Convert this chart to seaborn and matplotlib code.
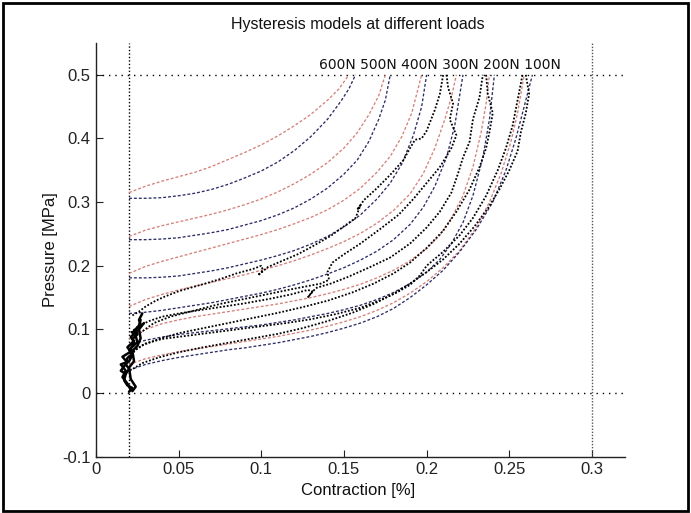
import matplotlib
matplotlib.use("Agg")
import matplotlib.pyplot as plt
import seaborn as sns
from matplotlib.patches import Rectangle

# ---------------- data ----------------
load_labels = ["600N", "500N", "400N", "300N", "200N", "100N"]
x_ticks = [0, 0.05, 0.1, 0.15, 0.2, 0.25, 0.3]
x_tick_labels = ["0", "0.05", "0.1", "0.15", "0.2", "0.25", "0.3"]
y_ticks = [-0.1, 0, 0.1, 0.2, 0.3, 0.4, 0.5]
y_tick_labels = ["-0.1", "0", "0.1", "0.2", "0.3", "0.4", "0.5"]

# model curves (red = loading, blue = unloading)
r600_x = [0.02, 0.03, 0.04, 0.05, 0.06, 0.07, 0.08, 0.09, 0.1, 0.11, 0.12, 0.13, 0.14, 0.147, 0.153]
r600_y = [0.315, 0.325, 0.333, 0.340, 0.347, 0.356, 0.367, 0.378, 0.390, 0.404, 0.420, 0.438, 0.46, 0.478, 0.5]
b600_x = [0.02, 0.03, 0.04, 0.05, 0.06, 0.07, 0.08, 0.09, 0.1, 0.11, 0.12, 0.13, 0.14, 0.148, 0.153, 0.157]
b600_y = [0.306, 0.306, 0.307, 0.310, 0.314, 0.320, 0.328, 0.338, 0.349, 0.363, 0.381, 0.403, 0.430, 0.458, 0.478, 0.5]
r500_x = [0.02, 0.03, 0.04, 0.05, 0.06, 0.07, 0.08, 0.09, 0.1, 0.11, 0.12, 0.13, 0.14, 0.15, 0.158, 0.165, 0.171, 0.175]
r500_y = [0.246, 0.256, 0.263, 0.269, 0.275, 0.281, 0.288, 0.296, 0.305, 0.316, 0.329, 0.344, 0.362, 0.385, 0.409, 0.437, 0.467, 0.5]
b500_x = [0.02, 0.03, 0.04, 0.05, 0.06, 0.07, 0.08, 0.09, 0.1, 0.11, 0.12, 0.13, 0.14, 0.15, 0.158, 0.165, 0.171, 0.175, 0.178]
b500_y = [0.241, 0.241, 0.242, 0.244, 0.248, 0.252, 0.257, 0.264, 0.271, 0.280, 0.291, 0.305, 0.322, 0.344, 0.366, 0.395, 0.43, 0.46, 0.5]
r400_x = [0.02, 0.03, 0.04, 0.05, 0.06, 0.07, 0.08, 0.09, 0.1, 0.11, 0.12, 0.13, 0.14, 0.15, 0.16, 0.17, 0.178, 0.185, 0.191, 0.197]
r400_y = [0.188, 0.199, 0.207, 0.214, 0.221, 0.228, 0.235, 0.242, 0.249, 0.257, 0.266, 0.276, 0.288, 0.303, 0.322, 0.347, 0.372, 0.403, 0.44, 0.5]
b400_x = [0.02, 0.03, 0.04, 0.05, 0.06, 0.07, 0.08, 0.09, 0.1, 0.11, 0.12, 0.13, 0.14, 0.15, 0.16, 0.17, 0.178, 0.185, 0.192, 0.197, 0.2]
b400_y = [0.181, 0.181, 0.182, 0.184, 0.188, 0.192, 0.197, 0.203, 0.209, 0.216, 0.224, 0.234, 0.246, 0.261, 0.28, 0.305, 0.33, 0.36, 0.405, 0.45, 0.5]
r300_x = [0.02, 0.03, 0.04, 0.05, 0.06, 0.07, 0.08, 0.09, 0.1, 0.11, 0.12, 0.13, 0.14, 0.15, 0.16, 0.17, 0.18, 0.19, 0.198, 0.205, 0.211, 0.215, 0.218]
r300_y = [0.136, 0.147, 0.155, 0.162, 0.168, 0.174, 0.180, 0.186, 0.193, 0.2, 0.208, 0.217, 0.227, 0.238, 0.251, 0.267, 0.287, 0.313, 0.345, 0.385, 0.43, 0.465, 0.5]
b300_x = [0.02, 0.03, 0.04, 0.05, 0.06, 0.07, 0.08, 0.09, 0.1, 0.11, 0.12, 0.13, 0.14, 0.15, 0.16, 0.17, 0.18, 0.19, 0.198, 0.205, 0.212, 0.217, 0.222]
b300_y = [0.125, 0.127, 0.130, 0.134, 0.138, 0.142, 0.147, 0.152, 0.157, 0.163, 0.170, 0.178, 0.187, 0.197, 0.209, 0.223, 0.241, 0.265, 0.292, 0.325, 0.37, 0.42, 0.5]
r200_x = [0.02, 0.03, 0.04, 0.05, 0.06, 0.07, 0.08, 0.09, 0.1, 0.11, 0.12, 0.13, 0.14, 0.15, 0.16, 0.17, 0.18, 0.19, 0.2,
          0.208, 0.215, 0.222, 0.228, 0.233, 0.236, 0.238]
r200_y = [0.085, 0.1, 0.109, 0.115, 0.12, 0.124, 0.128, 0.132, 0.136, 0.14, 0.145, 0.150, 0.156, 0.163, 0.171, 0.181, 0.193,
          0.208, 0.227, 0.248, 0.275, 0.31, 0.355, 0.41, 0.455, 0.5]
b200_x = [0.02, 0.03, 0.04, 0.05, 0.06, 0.07, 0.08, 0.09, 0.1, 0.11, 0.12, 0.13, 0.14, 0.15, 0.16, 0.17, 0.18, 0.19, 0.2,
          0.208, 0.215, 0.222, 0.228, 0.234, 0.238, 0.241]
b200_y = [0.075, 0.083, 0.088, 0.092, 0.095, 0.098, 0.101, 0.104, 0.107, 0.111, 0.115, 0.12, 0.125, 0.131, 0.138, 0.147,
          0.158, 0.172, 0.19, 0.21, 0.235, 0.268, 0.31, 0.37, 0.43, 0.5]
r100_x = [0.02, 0.03, 0.04, 0.05, 0.06, 0.07, 0.08, 0.09, 0.1, 0.11, 0.12, 0.13, 0.14, 0.15, 0.16, 0.17, 0.18, 0.19, 0.2,
          0.21, 0.22, 0.23, 0.238, 0.245, 0.251, 0.255, 0.259]
r100_y = [0.045, 0.054, 0.06, 0.065, 0.069, 0.073, 0.077, 0.081, 0.085, 0.089, 0.094, 0.099, 0.105, 0.112, 0.12, 0.13,
          0.142, 0.157, 0.175, 0.197, 0.224, 0.26, 0.3, 0.345, 0.395, 0.44, 0.5]
b100_x = [0.02, 0.03, 0.04, 0.05, 0.06, 0.07, 0.08, 0.09, 0.1, 0.11, 0.12, 0.13, 0.14, 0.15, 0.16, 0.17, 0.18, 0.19, 0.2,
          0.21, 0.22, 0.23, 0.24, 0.248, 0.254, 0.259, 0.264]
b100_y = [0.036, 0.045, 0.051, 0.056, 0.06, 0.064, 0.068, 0.071, 0.075, 0.079, 0.084, 0.089, 0.095, 0.102, 0.11, 0.12,
          0.133, 0.15, 0.17, 0.193, 0.222, 0.257, 0.3, 0.35, 0.4, 0.45, 0.5]

# measured data (black)
k1_x = [0.022, 0.026, 0.03, 0.036, 0.042, 0.05, 0.058, 0.066, 0.075, 0.085, 0.095, 0.1, 0.101, 0.098, 0.104,
        0.112, 0.122, 0.132, 0.142, 0.15, 0.157, 0.16, 0.158, 0.162, 0.17, 0.178, 0.186, 0.19, 0.193, 0.197,
        0.2, 0.205, 0.208, 0.21]
k1_y = [0.122, 0.128, 0.136, 0.145, 0.152, 0.16, 0.166, 0.172, 0.179, 0.188, 0.195, 0.2, 0.193, 0.185, 0.198,
        0.207, 0.218, 0.232, 0.247, 0.262, 0.275, 0.295, 0.288, 0.303, 0.322, 0.343, 0.366, 0.385, 0.398, 0.4,
        0.412, 0.445, 0.47, 0.5]
k2_x = [0.212, 0.213, 0.216, 0.214, 0.218, 0.215, 0.208, 0.2, 0.192, 0.183, 0.172, 0.16, 0.15, 0.143, 0.14,
        0.141, 0.136, 0.128, 0.118, 0.105, 0.09, 0.075, 0.06, 0.045, 0.035, 0.027]
k2_y = [0.5, 0.48, 0.455, 0.43, 0.405, 0.385, 0.355, 0.33, 0.305, 0.28, 0.258, 0.235, 0.218, 0.205, 0.19,
        0.178, 0.172, 0.168, 0.163, 0.156, 0.148, 0.14, 0.13, 0.12, 0.11, 0.095]
k3_x = [0.021, 0.025, 0.032, 0.04, 0.05, 0.062, 0.075, 0.09, 0.105, 0.118, 0.128, 0.131, 0.128, 0.133, 0.142,
        0.152, 0.165, 0.178, 0.19, 0.2, 0.208, 0.215, 0.219, 0.222, 0.226, 0.228, 0.232, 0.234]
k3_y = [0.095, 0.104, 0.113, 0.12, 0.125, 0.13, 0.135, 0.141, 0.148, 0.155, 0.162, 0.16, 0.15, 0.165, 0.172,
        0.182, 0.197, 0.213, 0.235, 0.26, 0.285, 0.315, 0.345, 0.37, 0.395, 0.43, 0.465, 0.5]
k4_x = [0.236, 0.237, 0.24, 0.238, 0.236, 0.232, 0.226, 0.218, 0.21, 0.2, 0.19, 0.18, 0.168, 0.155, 0.14,
        0.125, 0.11, 0.095, 0.08, 0.065, 0.05, 0.038, 0.028, 0.022]
k4_y = [0.5, 0.47, 0.44, 0.41, 0.385, 0.355, 0.32, 0.285, 0.255, 0.228, 0.205, 0.188, 0.172, 0.158, 0.145,
        0.135, 0.126, 0.118, 0.11, 0.102, 0.094, 0.085, 0.075, 0.065]
k5_x = [0.02, 0.024, 0.03, 0.04, 0.055, 0.07, 0.085, 0.1, 0.115, 0.13, 0.145, 0.16, 0.172, 0.182, 0.19,
        0.196, 0.2, 0.21, 0.22, 0.228, 0.236, 0.243, 0.248, 0.252, 0.255, 0.258]
k5_y = [0.055, 0.068, 0.078, 0.085, 0.09, 0.095, 0.1, 0.105, 0.11, 0.116, 0.124, 0.134, 0.146, 0.158, 0.17,
        0.185, 0.2, 0.222, 0.248, 0.275, 0.31, 0.35, 0.385, 0.42, 0.46, 0.5]
k6_x = [0.26, 0.262, 0.26, 0.257, 0.255, 0.25, 0.244, 0.237, 0.229, 0.22, 0.21, 0.2, 0.19, 0.18, 0.168,
        0.155, 0.14, 0.125, 0.11, 0.095, 0.08, 0.065, 0.05, 0.038, 0.028, 0.021]
k6_y = [0.5, 0.47, 0.44, 0.41, 0.38, 0.35, 0.32, 0.29, 0.262, 0.235, 0.21, 0.19, 0.172, 0.156, 0.14,
        0.126, 0.113, 0.102, 0.093, 0.086, 0.079, 0.072, 0.064, 0.056, 0.047, 0.036]

# initial cluster near x = 0.02
c1_x = [0.02, 0.022, 0.019, 0.017, 0.018, 0.02, 0.018, 0.019, 0.022, 0.021, 0.023, 0.022, 0.025, 0.024, 0.027, 0.026, 0.028]
c1_y = [0.002, 0.008, 0.012, 0.02, 0.03, 0.038, 0.045, 0.055, 0.062, 0.07, 0.078, 0.085, 0.092, 0.1, 0.108, 0.115, 0.125]
c2_x = [0.021, 0.019, 0.016, 0.018, 0.015, 0.02, 0.022, 0.02, 0.023, 0.025, 0.024, 0.022, 0.026]
c2_y = [0.005, 0.015, 0.025, 0.035, 0.045, 0.05, 0.06, 0.068, 0.075, 0.08, 0.09, 0.095, 0.105]
c3_x = [0.018, 0.015, 0.017, 0.019, 0.016, 0.021, 0.019, 0.023, 0.021, 0.025, 0.027]
c3_y = [0.03, 0.035, 0.042, 0.048, 0.057, 0.065, 0.072, 0.082, 0.088, 0.098, 0.115]
c4_x = [0.022, 0.024, 0.021, 0.02, 0.023, 0.022, 0.025, 0.027, 0.026, 0.029]
c4_y = [0.003, 0.01, 0.022, 0.04, 0.05, 0.066, 0.074, 0.086, 0.1, 0.11]

# ---------------- style ----------------
sns.set_style("ticks", {"xtick.direction": "in", "ytick.direction": "in"})
plt.rcParams["font.family"] = ["Liberation Sans", "DejaVu Sans"]

RED = "#d4817a"
BLUE = "#2c2c66"
model_dash = (0, (2.2, 1.5))
meas_dash = (0, (1.0, 1.0))

fig = plt.figure(figsize=(6.91, 5.13), dpi=100)
fig.patch.set_facecolor("white")
ax = fig.add_axes([96 / 691, 1 - 456.7 / 513, (625 - 96) / 691, (456.7 - 43) / 513])

# reference dotted lines
ax.axhline(0.5, color="black", lw=1.0, ls=(0, (1, 3.5)), zorder=1)
ax.axhline(0.0, color="black", lw=1.0, ls=(0, (1, 3.5)), zorder=1)
ax.axvline(0.02, color="black", lw=1.0, ls=(0, (1, 1.5)), zorder=1)
ax.axvline(0.3, color="#555555", lw=1.0, ls=(0, (1, 1.2)), zorder=1)

models = [
    (r600_x, r600_y, RED), (b600_x, b600_y, BLUE),
    (r500_x, r500_y, RED), (b500_x, b500_y, BLUE),
    (r400_x, r400_y, RED), (b400_x, b400_y, BLUE),
    (r300_x, r300_y, RED), (b300_x, b300_y, BLUE),
    (r200_x, r200_y, RED), (b200_x, b200_y, BLUE),
    (r100_x, r100_y, RED), (b100_x, b100_y, BLUE),
]
for xs, ys, col in models:
    sns.lineplot(x=xs, y=ys, ax=ax, sort=False, estimator=None, color=col,
                 linestyle=model_dash, linewidth=0.95)

measured = [(k1_x, k1_y), (k2_x, k2_y), (k3_x, k3_y), (k4_x, k4_y), (k5_x, k5_y), (k6_x, k6_y)]
for xs, ys in measured:
    sns.lineplot(x=xs, y=ys, ax=ax, sort=False, estimator=None, color="black",
                 linestyle=meas_dash, linewidth=1.3)

for xs, ys in [(c1_x, c1_y), (c2_x, c2_y), (c3_x, c3_y), (c4_x, c4_y)]:
    sns.lineplot(x=xs, y=ys, ax=ax, sort=False, estimator=None, color="black",
                 linestyle="-", linewidth=1.8)

ax.text(0.1346, 0.509, " ".join(load_labels), fontsize=10, family="DejaVu Sans",
        ha="left", va="baseline", color="#111111")

ax.set_xlim(0, 0.32)
ax.set_ylim(-0.1, 0.55)
ax.set_xticks(x_ticks)
ax.set_xticklabels(x_tick_labels)
ax.set_yticks(y_ticks)
ax.set_yticklabels(y_tick_labels)
ax.tick_params(direction="in", length=5, width=0.8, labelsize=12, pad=4, colors="#222222")
for s in ["top", "right"]:
    ax.spines[s].set_visible(False)
for s in ["left", "bottom"]:
    ax.spines[s].set_linewidth(1.0)
    ax.spines[s].set_color("#222222")
ax.set_xlabel("")
ax.set_ylabel("")

fig.text(358 / 691, 1 - 25 / 513, "Hysteresis models at different loads", ha="center", va="center",
         fontsize=11.5, color="#111111")
fig.text(358 / 691, 1 - 491 / 513, "Contraction [%]", ha="center", va="center", fontsize=12, color="#111111")
fig.text(50 / 691, 1 - 250 / 513, "Pressure [MPa]", ha="center", va="center", rotation=90,
         fontsize=12, color="#111111")

fig.add_artist(Rectangle((0.004, 0.004), 0.992, 0.99, transform=fig.transFigure,
                         fill=False, lw=2.0, edgecolor="black"))

fig.savefig("out.png", dpi=100)
